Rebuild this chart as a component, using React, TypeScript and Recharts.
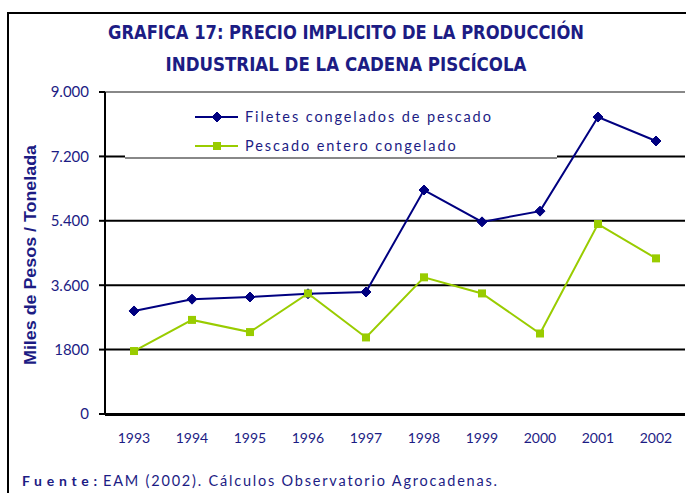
import React from 'react';
import { LineChart, Line, XAxis, YAxis, CartesianGrid, ReferenceLine } from 'recharts';

const years = ['1993', '1994', '1995', '1996', '1997', '1998', '1999', '2000', '2001', '2002'];
const filetes = [2880, 3210, 3270, 3360, 3410, 6260, 5370, 5670, 8300, 7630];
const entero = [1760, 2630, 2290, 3370, 2140, 3820, 3370, 2250, 5310, 4350];
const seriesNames = ['Filetes congelados de pescado', 'Pescado entero congelado'];
const yTicks = [0, 1800, 3600, 5400, 7200, 9000];
const yTickLabels = ['0', '1800', '3.600', '5.400', '7.200', '9.000'];
const boundaryTicks = [0, 1, 2, 3, 4, 5, 6, 7, 8, 9, 10];

const data = years.map((year, i) => ({ year, filetes: filetes[i], entero: entero[i] }));

const NAVY = '#000080';
const GREEN = '#99cc00';
const TEXT = '#1c1c84';
const NARROW = '"Liberation Sans Narrow", "Arial Narrow", "DejaVu Sans Condensed", sans-serif';
const BODY = 'Lato, "Open Sans", sans-serif';

const Diamond = (props: any) => {
  const { cx, cy } = props;
  if (cx == null || cy == null) return null;
  const r = 5;
  return <polygon points={`${cx},${cy - r} ${cx + r},${cy} ${cx},${cy + r} ${cx - r},${cy}`} fill={NAVY} stroke={NAVY} />;
};

const Square = (props: any) => {
  const { cx, cy } = props;
  if (cx == null || cy == null) return null;
  return <rect x={cx - 4} y={cy - 4} width={8} height={8} fill={GREEN} />;
};

export default function App() {
  return (
    <div style={{ position: 'fixed', left: 0, top: 0, width: 686, height: 493, overflow: 'hidden', background: '#fff' }}>
      {/* outer frame */}
      <div style={{ position: 'absolute', left: 7, top: 12, width: 720, height: 520, border: '2px solid #000' }} />

      <div style={{ position: 'absolute', left: 0, top: 0 }}>
        <LineChart width={686} height={493} data={data} margin={{ top: 92, right: 1, bottom: 48, left: 0 }}>
          <CartesianGrid horizontal vertical={false} stroke="#000" strokeWidth={2} />
          <ReferenceLine y={9000} stroke="#888" strokeWidth={2} />
          <XAxis
            xAxisId="frame"
            type="number"
            domain={[0, 10]}
            ticks={boundaryTicks}
            tick={false}
            tickSize={7}
            height={30}
            stroke="#000"
            strokeWidth={2}
          />
          <XAxis
            dataKey="year"
            height={1}
            padding={{ left: 29, right: 29 }}
            axisLine={false}
            tickLine={false}
            tickSize={0}
            tickMargin={19}
            interval={0}
            tick={{ fill: TEXT, fontSize: 14, fontFamily: BODY }}
          />
          <YAxis
            width={105}
            domain={[0, 9000]}
            ticks={yTicks}
            interval={0}
            tickSize={6}
            tickMargin={10}
            stroke="#000"
            strokeWidth={2}
            tickFormatter={(v: number) => yTickLabels[yTicks.indexOf(v)]}
            tick={{ fill: TEXT, fontSize: 15, fontFamily: BODY }}
          />
          <Line dataKey="filetes" name={seriesNames[0]} stroke={NAVY} strokeWidth={2} dot={<Diamond />} activeDot={false} isAnimationActive={false} />
          <Line dataKey="entero" name={seriesNames[1]} stroke={GREEN} strokeWidth={2} dot={<Square />} activeDot={false} isAnimationActive={false} />
        </LineChart>
      </div>

      {/* legend box */}
      <div style={{ position: 'absolute', left: 125, top: 91, width: 432, height: 64, background: '#fff', borderTop: '2px solid #888', borderBottom: '2px solid #888' }} />

      <svg width={686} height={493} style={{ position: 'absolute', left: 0, top: 0, pointerEvents: 'none' }}>
        <text x={346} y={39} textAnchor="middle" fill={TEXT} fontFamily={NARROW} fontWeight="bold" fontSize={20} textLength={476} lengthAdjust="spacingAndGlyphs">
          GRAFICA 17: PRECIO IMPLICITO DE LA PRODUCCIÓN
        </text>
        <text x={346} y={71} textAnchor="middle" fill={TEXT} fontFamily={NARROW} fontWeight="bold" fontSize={20} textLength={361} lengthAdjust="spacingAndGlyphs">
          INDUSTRIAL DE LA CADENA PISCÍCOLA
        </text>

        <text transform="translate(36,255) rotate(-90)" textAnchor="middle" fill={TEXT} fontFamily='"Liberation Sans", Arial, sans-serif' fontWeight="bold" fontSize={16} textLength={220} lengthAdjust="spacingAndGlyphs">
          Miles de Pesos / Tonelada
        </text>

        {/* legend entries */}
        <line x1={195} y1={117} x2={238} y2={117} stroke={NAVY} strokeWidth={2} />
        <Diamond cx={217} cy={117} />
        <text x={245} y={122} fill={TEXT} fontFamily={BODY} fontSize={14.5} letterSpacing={1.9}>{seriesNames[0]}</text>
        <line x1={195} y1={146} x2={238} y2={146} stroke={GREEN} strokeWidth={2} />
        <Square cx={217} cy={146} />
        <text x={245} y={151} fill={TEXT} fontFamily={BODY} fontSize={14.5} letterSpacing={1.9}>{seriesNames[1]}</text>

        <text x={22} y={486} fill={TEXT} fontFamily={BODY} fontSize={14} fontWeight="bold" textLength={75} lengthAdjust="spacing">
          Fuente:
        </text>
        <text x={103} y={486} fill={TEXT} fontFamily={BODY} fontSize={14.5} textLength={394} lengthAdjust="spacing">
          EAM (2002). Cálculos Observatorio Agrocadenas.
        </text>
      </svg>
    </div>
  );
}
